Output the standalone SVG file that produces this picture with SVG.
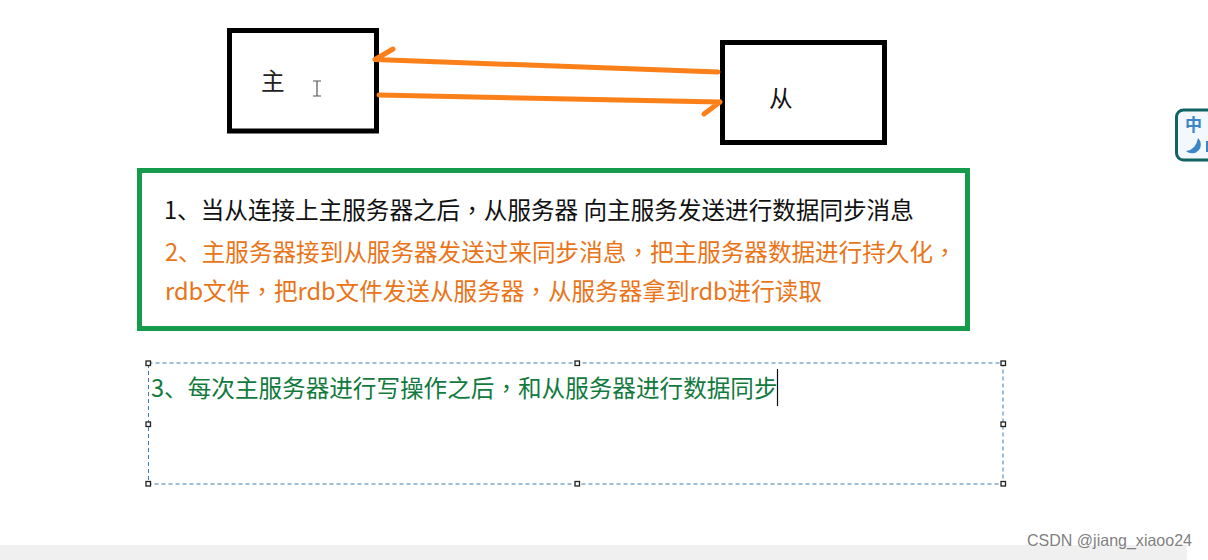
<svg xmlns="http://www.w3.org/2000/svg" width="1208" height="560" viewBox="0 0 1208 560">
<style>
.t{font-family:"Noto Sans CJK SC","Liberation Sans",sans-serif;font-size:23.6px}
.m{font-family:"Noto Sans CJK TC",sans-serif}
.b{fill:#fff;stroke:#000;stroke-width:5}
.c{fill:none;stroke:#fb8019;stroke-width:5;stroke-linecap:round;stroke-linejoin:round}
.h{fill:#fff;stroke:#222;stroke-width:1.3}
</style>
<rect width="1208" height="560" fill="#fff"/>
<rect x="0" y="545" width="1208" height="15" fill="#f0f0f0"/>
<path d="M1208 509Q1187 511 1187 530V560H1208Z" fill="#fff"/>
<g id="node-master">
<rect class="b" x="229.500" y="30.500" width="147" height="100.500"/>
<text class="t" x="261" y="90" fill="#222">主</text>
<path d="M313 81H321M317 81V96M313 96H321" fill="none" stroke="#555" stroke-width="1.200"/>
</g>
<g id="node-slave">
<rect class="b" x="722.500" y="42.500" width="162" height="100"/>
<text class="t" x="769" y="107" fill="#111">从</text>
</g>
<g id="connectors">
<path class="c" d="M718 72L375 59.500M375 59.500L393 49"/>
<path class="c" d="M379 95L720 102M720 102L704 114"/>
</g>
<g id="node-steps">
<rect x="139.500" y="170.500" width="828" height="158" fill="#fff" stroke="#169b4d" stroke-width="5"/>
<text class="t" x="164" y="219" fill="#111">1、当从连接上主服务器之后<tspan class="m">，</tspan>从服务器 向主服务发送进行数据同步消息</text>
<text class="t" x="165" y="261" fill="#ea7418">2、主服务器接到从服务器发送过来同步消息<tspan class="m">，</tspan>把主服务器数据进行持久化<tspan class="m">，</tspan></text>
<text class="t" x="165" y="300" fill="#ea7418">rdb文件<tspan class="m">，</tspan>把rdb文件发送从服务器<tspan class="m">，</tspan>从服务器拿到rdb进行读取</text>
</g>
<g id="node-selected">
<rect x="148.500" y="363" width="854.500" height="121" fill="#fff" stroke="#3f7fb0" stroke-width="1" stroke-dasharray="4 3"/>
<text class="t" x="151" y="397" fill="#127a3e">3、每次主服务器进行写操作之后<tspan class="m">，</tspan>和从服务器进行数据同步</text>
<path d="M777.500 369V406" stroke="#111" stroke-width="1.200"/>
<rect class="h" x="146" y="361" width="4.500" height="4.500"/>
<rect class="h" x="575" y="361" width="4.500" height="4.500"/>
<rect class="h" x="1001" y="361" width="4.500" height="4.500"/>
<rect class="h" x="146" y="422" width="4.500" height="4.500"/>
<rect class="h" x="1001" y="422" width="4.500" height="4.500"/>
<rect class="h" x="146" y="481.500" width="4.500" height="4.500"/>
<rect class="h" x="575" y="481.500" width="4.500" height="4.500"/>
<rect class="h" x="1001" y="481.500" width="4.500" height="4.500"/>
</g>
<g id="node-ime">
<rect x="1176.500" y="110" width="50" height="50" rx="7" fill="#f2f8fd" stroke="#0f6360" stroke-width="3"/>
<text x="1185" y="131" font-family="'Noto Sans CJK SC',sans-serif" font-size="17" font-weight="700" fill="#3a86c8">中</text>
<path d="M1198 138A8.500 8.500 0 1 1 1186 151Q1196 150 1198 138Z" fill="#3a86c8"/>
<rect x="1206" y="141" width="2" height="11" fill="#3a86c8"/>
</g>
<text x="1027" y="546" font-family="'Liberation Sans',sans-serif" font-size="16.500" textLength="165" lengthAdjust="spacingAndGlyphs" fill="#808080">CSDN @jiang_xiaoo24</text>
</svg>
